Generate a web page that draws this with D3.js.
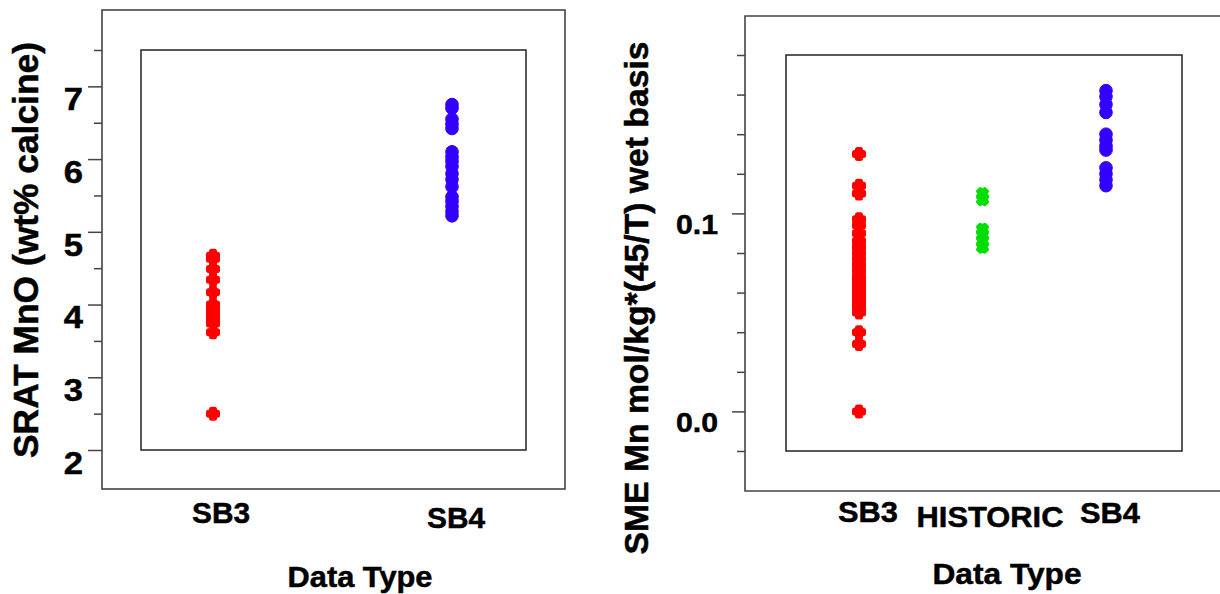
<!DOCTYPE html>
<html>
<head>
<meta charset="utf-8">
<script src="https://d3js.org/d3.v7.min.js"></script>
<style>
  body { margin: 0; background: #fff; }
  text { font-family: "Liberation Sans", Arial, sans-serif; font-weight: bold; fill: #000;
         stroke: #000; stroke-width: 0.5px; }
</style>
</head>
<body>
<svg width="1220" height="594" id="chart"></svg>
<script>
  // ---- data ----
  var leftCats  = ['SB3', 'SB4']
  var rightCats = ['SB3', 'HISTORIC', 'SB4']

  // SRAT MnO (wt% calcine)
  var sratSB3 = [4.67, 4.63, 4.49, 4.34, 4.17, 4.0, 3.97, 3.93, 3.9, 3.86, 3.82, 3.78, 3.74, 3.62, 2.5]
  var sratSB4 = [6.75, 6.7, 6.55, 6.48, 6.42, 6.1, 6.03, 5.97, 5.9, 5.8, 5.72, 5.62, 5.48, 5.42, 5.35, 5.28, 5.22]

  // SME Mn mol/kg*(45/T) wet basis
  var smeSB3 = [0.130, 0.114, 0.110, 0.097, 0.094, 0.090, 0.086, 0.083, 0.080, 0.077, 0.074, 0.071,
                0.068, 0.066, 0.064, 0.062, 0.060, 0.058, 0.056, 0.054, 0.052, 0.050, 0.040, 0.034, 0.000]
  var smeHistoric = [0.110, 0.107, 0.092, 0.089, 0.086, 0.083]
  var smeSB4 = [0.162, 0.159, 0.155, 0.151, 0.140, 0.137, 0.134, 0.132, 0.123, 0.120, 0.117, 0.114]

  var leftMajor  = [2, 3, 4, 5, 6, 7]
  var leftMinor  = [2.5, 3.5, 4.5, 5.5, 6.5, 7.5]
  var rightMajor = [0.0, 0.1]
  var rightMinor = [-0.02, 0.02, 0.04, 0.06, 0.08, 0.12, 0.14, 0.16, 0.18]

  var svg = d3.select('#chart')
  var frameColor = '#444'
  var stretch = 1.08   // the original lettering is a little wider than Liberation Sans

  // ---- scales ----
  var yLeft  = d3.scaleLinear().domain([2, 7.5]).range([450, 50])
  var yRight = d3.scaleLinear().domain([-0.02, 0.18]).range([451, 55])
  var xLeft  = d3.scalePoint().domain(leftCats).range([213, 452])
  var xRight = d3.scalePoint().domain(rightCats).range([859, 1106])

  // ---- frames ----
  // left panel: outer box + inner box
  svg.append('rect')
    .attr('x', 102).attr('y', 10).attr('width', 463).attr('height', 479)
    .attr('fill', 'none').attr('stroke', frameColor).attr('stroke-width', 1.6)
  svg.append('rect')
    .attr('x', 141).attr('y', yLeft(7.5)).attr('width', 385).attr('height', yLeft(2) - yLeft(7.5))
    .attr('fill', 'none').attr('stroke', '#222').attr('stroke-width', 1.5)

  // right panel: outer box runs off the right edge
  svg.append('path')
    .attr('d', 'M1222,16H745V491H1222')
    .attr('fill', 'none').attr('stroke', frameColor).attr('stroke-width', 1.6)
  svg.append('rect')
    .attr('x', 786).attr('y', yRight(0.18)).attr('width', 396).attr('height', yRight(-0.02) - yRight(0.18))
    .attr('fill', 'none').attr('stroke', '#222').attr('stroke-width', 1.5)

  // stretch a text horizontally (along its own direction)
  function widen(sel) {
    sel.each(function() {
      d3.select(this)
        .attr('textLength', this.getComputedTextLength() * stretch)
        .attr('lengthAdjust', 'spacingAndGlyphs')
    })
  }

  // ---- axes ----
  function drawAxis(scale, x, major, minor, bigLen, pad, fontSize, fmt) {
    var gMinor = svg.append('g').attr('transform', 'translate(' + x + ',0)')
      .call(d3.axisLeft(scale).tickValues(minor).tickSize(8).tickFormat(''))
    var gMajor = svg.append('g').attr('transform', 'translate(' + x + ',0)')
      .call(d3.axisLeft(scale).tickValues(major).tickSize(bigLen).tickPadding(pad).tickFormat(fmt))
    ;[gMinor, gMajor].forEach(function(g) {
      g.select('.domain').remove()
      g.selectAll('line').attr('stroke', frameColor).attr('stroke-width', 1.5)
    })
    // labels hang just below their tick
    gMajor.selectAll('text')
      .attr('dy', '0.73em')
      .style('font-size', fontSize + 'px')
      .attr('fill', '#000')
      .call(widen)
  }
  drawAxis(yLeft, 102, leftMajor, leftMinor, 14, 5, 32, d3.format('d'))
  drawAxis(yRight, 745, rightMajor, rightMinor, 13, 14, 28, d3.format('.1f'))

  // ---- markers ----
  var plus  = d3.symbol(d3.symbolCross, 45)
  var xMark = d3.symbol(d3.symbolCross, 50)
  var dot   = d3.symbol(d3.symbolCircle, 125)

  function drawPoints(values, xs, ys, shape, color, angle, sw) {
    svg.append('g').selectAll('path')
      .data(values)
      .enter().append('path')
      .attr('d', shape)
      .attr('transform', function(d) { return 'translate(' + xs + ',' + ys(d) + ') rotate(' + angle + ')' })
      .attr('fill', color)
      .attr('stroke', color)
      .attr('stroke-width', sw)
      .attr('stroke-linejoin', 'round')
  }
  drawPoints(sratSB3, xLeft('SB3'), yLeft, plus, '#ff0000', 0, 5)
  drawPoints(sratSB4, xLeft('SB4'), yLeft, dot, '#3300ff', 0, 1)
  drawPoints(smeSB3, xRight('SB3'), yRight, plus, '#ff0000', 0, 5)
  drawPoints(smeHistoric, xRight('HISTORIC'), yRight, xMark, '#00dd00', 45, 4)
  drawPoints(smeSB4, xRight('SB4'), yRight, dot, '#3300ff', 0, 1)

  // ---- category labels ----
  var leftPos  = { 'SB3': [221, 523, 58], 'SB4': [456, 528, 58] }
  var rightPos = { 'SB3': [868, 522, 60], 'HISTORIC': [990, 527, 147], 'SB4': [1110, 523, 60] }
  function catLabels(cats, pos) {
    svg.append('g').selectAll('text')
      .data(cats)
      .enter().append('text')
      .attr('x', function(d) { return pos[d][0] })
      .attr('y', function(d) { return pos[d][1] })
      .attr('text-anchor', 'middle')
      .attr('textLength', function(d) { return pos[d][2] })
      .attr('lengthAdjust', 'spacingAndGlyphs')
      .style('font-size', '30px')
      .text(function(d) { return d })
  }
  catLabels(leftCats, leftPos)
  catLabels(rightCats, rightPos)

  // ---- axis titles ----
  svg.append('text').attr('x', 360).attr('y', 587).attr('text-anchor', 'middle')
    .style('font-size', '30px').attr('textLength', 145).attr('lengthAdjust', 'spacingAndGlyphs')
    .text('Data Type')
  svg.append('text').attr('x', 1007).attr('y', 584).attr('text-anchor', 'middle')
    .style('font-size', '30px').attr('textLength', 149).attr('lengthAdjust', 'spacingAndGlyphs')
    .text('Data Type')

  svg.append('text').attr('transform', 'translate(38,250) rotate(-90)').attr('text-anchor', 'middle')
    .style('font-size', '35px').attr('textLength', 416).attr('lengthAdjust', 'spacingAndGlyphs')
    .text('SRAT MnO (wt% calcine)')
  svg.append('text').attr('transform', 'translate(648,298) rotate(-90)').attr('text-anchor', 'middle')
    .style('font-size', '33px').attr('textLength', 513).attr('lengthAdjust', 'spacingAndGlyphs')
    .text('SME Mn mol/kg*(45/T) wet basis')
</script>
</body>
</html>
